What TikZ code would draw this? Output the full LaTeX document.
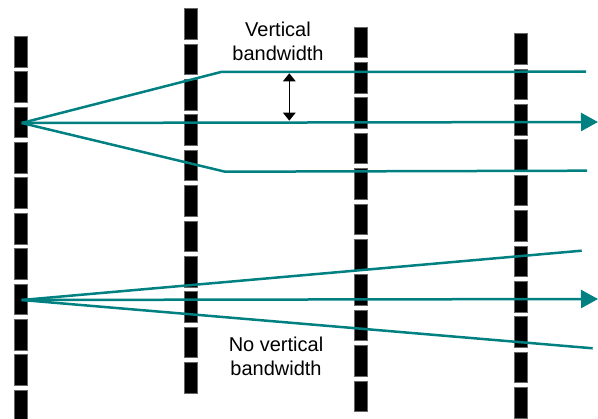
\documentclass[tikz,border=0pt]{standalone}
\usepackage{fontspec}
\setmainfont{Liberation Sans}
\usetikzlibrary{arrows.meta}
\definecolor{teal1}{RGB}{0,128,128}
\tikzset{
  beam/.style={draw=teal1, line width=2.5pt, line join=round},
  beamarrow/.style={beam, -{Triangle[length=17pt,width=18pt]}},
  dimarrow/.style={black, line width=1.2pt, {Triangle[length=8pt,width=12.5pt]}-{Triangle[length=8pt,width=12.5pt]}},
  lbl/.style={align=center, inner sep=0pt, anchor=north, font=\fontsize{20}{24}\selectfont},
  dashbar/.style={fill=black, draw=black!60, line width=0.3pt}
}
\begin{document}
\begin{tikzpicture}[x=1pt,y=-1pt]
\useasboundingbox (0,0) rectangle (598,419);
% dashed bars
\foreach \cx/\sy in {20.8/36, 191/8.3, 360.3/26.7, 521/33.3}{
  \foreach \k in {0,...,10}{
    \path[dashbar] (\cx-6.4,\sy+\k*35.4) rectangle (\cx+6.4,\sy+\k*35.4+30.7);
  }
}
% top group
\coordinate (o1) at (21.7,123);
\coordinate (u1) at (221,72);
\coordinate (ue1) at (586,71.7);
\coordinate (l1) at (225,171.7);
\coordinate (le1) at (587,170.7);
\coordinate (a1) at (598,122);
\draw[beam] (o1) -- (u1) -- (ue1);
\draw[beam] (o1) -- (l1) -- (le1);
\draw[beamarrow] (o1) -- (a1);
\coordinate (d1) at (289.3,73.3);
\coordinate (d2) at (289.3,120.7);
\draw[dimarrow] (d1) -- (d2);
\node[lbl] (vb) at (278,21.6) {Vertical\\bandwidth};
% bottom group
\coordinate (o2) at (21.7,300);
\coordinate (ue2) at (581.7,250.7);
\coordinate (le2) at (592.7,348.3);
\coordinate (a2) at (598,299);
\draw[beam] (o2) -- (ue2);
\draw[beam] (o2) -- (le2);
\draw[beamarrow] (o2) -- (a2);
\node[lbl] (nvb) at (276,336.6) {No vertical\\bandwidth};
\end{tikzpicture}
\end{document}
